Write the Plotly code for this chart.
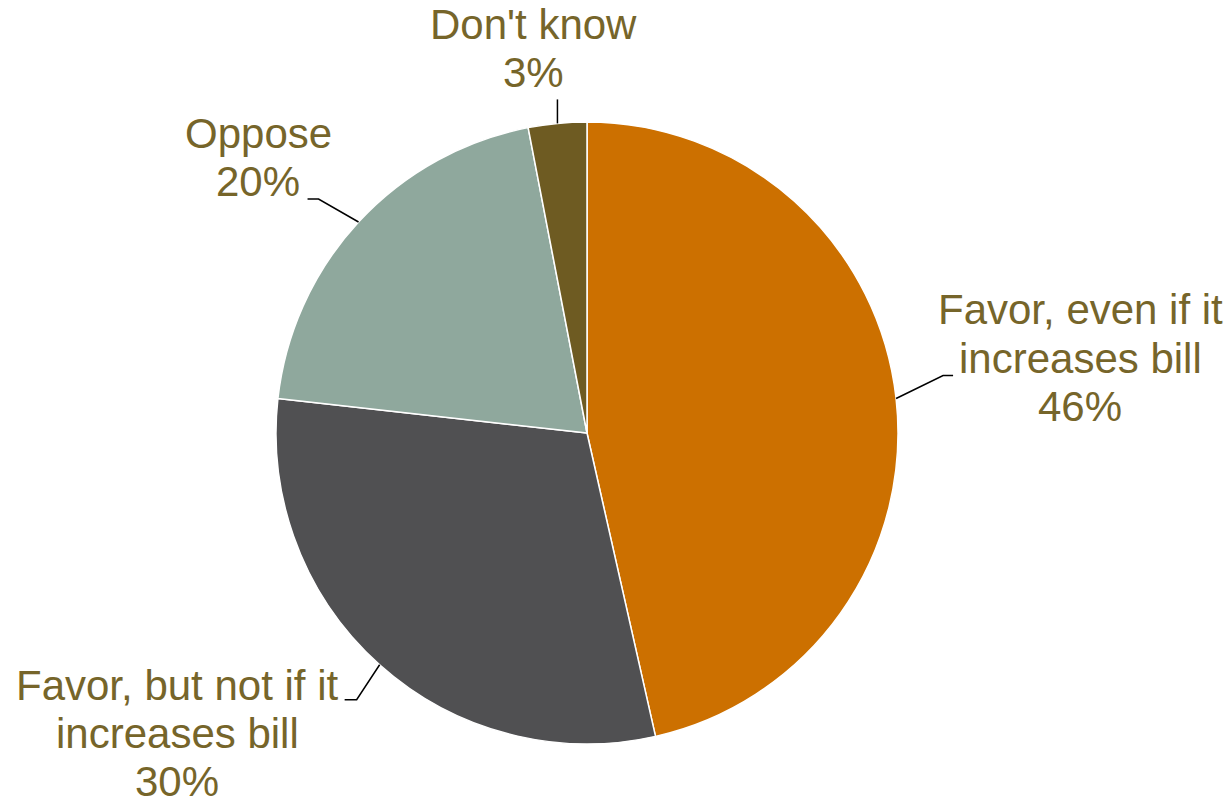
import math
import plotly.graph_objects as go

# ---- data ----
categories = ["Favor, even if it increases bill", "Favor, but not if it increases bill", "Oppose", "Don't know"]
label_lines = [["Favor, even if it", "increases bill"], ["Favor, but not if it", "increases bill"], ["Oppose"], ["Don't know"]]
values = [46, 30, 20, 3]
colors = ["#CC7000", "#505052", "#8FA89D", "#6E5B22"]

W, H = 1232, 803
OFF = 8  # page body margin offset
CX, CY, R = 587, 433, 311  # pie centre / radius in screen pixels
TEXT_COLOR = "#76652A"
FONT = "Liberation Sans, Arial, sans-serif"
FS = 42
LINE_GAP = 48

def px(x):
    return (x - OFF) / W

def py(y):
    return 1 - (y - OFF) / H

fig = go.Figure(go.Pie(
    labels=categories,
    values=values,
    sort=False,
    direction="clockwise",
    rotation=0,
    marker=dict(colors=colors, line=dict(color="white", width=1.5)),
    textinfo="none",
    showlegend=False,
    domain=dict(x=[px(CX - R), px(CX + R)], y=[py(CY + R), py(CY - R)]),
))

# label layout: (text centre x, first baseline y, elbow dx, elbow dy, horizontal run)
label_layout = [
    (1080, 325, 47, -23, 10),
    (177, 700, -23, 35, -12),
    (258, 149, -40, -23, -11),
    (533, 40, 0, -24, 0),
]

total = sum(values)
cum = 0
shapes = []
annotations = []
for i, v in enumerate(values):
    mid = (cum + v / 2) / total * 2 * math.pi
    cum += v
    ex = CX + R * math.sin(mid)
    ey = CY - R * math.cos(mid)
    tx, ty, edx, edy, run = label_layout[i]
    kx, ky = ex + edx, ey + edy
    hx = kx + run
    path = f"M {px(ex)},{py(ey)} L {px(kx)},{py(ky)} L {px(hx)},{py(ky)}"
    shapes.append(dict(type="path", path=path, xref="paper", yref="paper",
                       line=dict(color="black", width=1.5)))
    lines = label_lines[i] + [f"{round(v / total * 100)}%"]
    for j, t in enumerate(lines):
        base = ty + j * LINE_GAP
        annotations.append(dict(
            text=t, x=px(tx), y=py(base - 15), xref="paper", yref="paper",
            xanchor="center", yanchor="middle", showarrow=False,
            font=dict(family=FONT, size=FS, color=TEXT_COLOR),
        ))

fig.update_layout(
    width=W, height=H,
    margin=dict(l=0, r=0, t=0, b=0),
    paper_bgcolor="white", plot_bgcolor="white",
    shapes=shapes, annotations=annotations,
)

fig.write_html("out.html")
